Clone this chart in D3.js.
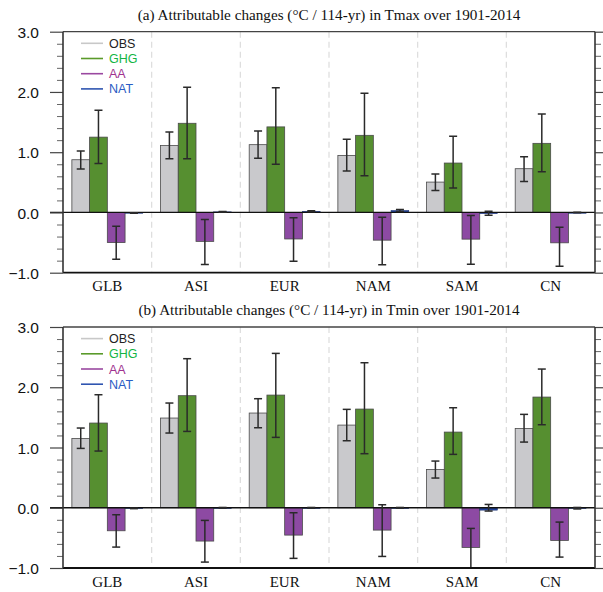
<!DOCTYPE html>
<html>
<head>
<meta charset="utf-8">
<script src="https://cdn.jsdelivr.net/npm/d3@7"></script>
<style>
  html, body { margin: 0; padding: 0; background: #fff; }
  svg { display: block; }
</style>
</head>
<body>
<svg id="chart" width="603" height="592"></svg>
<script>
// Regions and forcing experiments
const regions = ["GLB", "ASI", "EUR", "NAM", "SAM", "CN"];
const series = ["OBS", "GHG", "AA", "NAT"];
const yTicks = [-1.0, 0.0, 1.0, 2.0, 3.0];

// Tmax: central estimates and 5-95% ranges (°C / 114-yr)
const tmaxOBS = [0.875, 1.11, 1.125, 0.947, 0.504, 0.726];
const tmaxOBSRange = [[0.72, 1.02], [0.89, 1.335], [0.90, 1.35], [0.687, 1.213], [0.366, 0.637], [0.515, 0.925]];
const tmaxGHG = [1.25, 1.48, 1.42, 1.28, 0.82, 1.147];
const tmaxGHGRange = [[0.814, 1.695], [0.89, 2.08], [0.80, 2.07], [0.61, 1.978], [0.404, 1.263], [0.676, 1.634]];
const tmaxAA = [-0.50, -0.48, -0.44, -0.46, -0.443, -0.504];
const tmaxAARange = [[-0.776, -0.227], [-0.864, -0.116], [-0.81, -0.09], [-0.87, -0.078], [-0.86, -0.05], [-0.892, -0.244]];
const tmaxNAT = [-0.01, 0.01, 0.02, 0.033, -0.02, 0.0];
const tmaxNATRange = [[-0.015, -0.005], [0.005, 0.015], [0.01, 0.03], [0.015, 0.05], [-0.045, 0.02], [-0.005, 0.005]];

// Tmin: central estimates and 5-95% ranges (°C / 114-yr)
const tminOBS = [1.151, 1.489, 1.572, 1.372, 0.636, 1.317];
const tminOBSRange = [[0.985, 1.323], [1.24, 1.738], [1.328, 1.81], [1.112, 1.633], [0.493, 0.775], [1.09, 1.55]];
const tminGHG = [1.406, 1.86, 1.87, 1.638, 1.256, 1.837];
const tminGHGRange = [[0.941, 1.876], [1.267, 2.474], [1.168, 2.562], [0.897, 2.407], [0.886, 1.66], [1.378, 2.302]];
const tminAA = [-0.382, -0.553, -0.454, -0.371, -0.659, -0.542];
const tminAARange = [[-0.653, -0.116], [-0.902, -0.21], [-0.84, -0.083], [-0.808, 0.05], [-1.05, -0.343], [-0.819, -0.238]];
const tminNAT = [-0.01, 0.0, 0.0, 0.0, -0.04, -0.01];
const tminNATRange = [[-0.015, -0.005], [-0.005, 0.005], [-0.005, 0.005], [-0.005, 0.005], [-0.055, 0.055], [-0.02, 0.005]];

const panels = [
  {
    title: "(a) Attributable changes (°C / 114-yr) in Tmax over 1901-2014",
    values: [tmaxOBS, tmaxGHG, tmaxAA, tmaxNAT],
    ranges: [tmaxOBSRange, tmaxGHGRange, tmaxAARange, tmaxNATRange]
  },
  {
    title: "(b) Attributable changes (°C / 114-yr) in Tmin over 1901-2014",
    values: [tminOBS, tminGHG, tminAA, tminNAT],
    ranges: [tminOBSRange, tminGHGRange, tminAARange, tminNATRange]
  }
];

const barFill = { OBS: "#c9c9cc", GHG: "#568f30", AA: "#8d4aa3", NAT: "#22449e" };
const legendLine = { OBS: "#c8c8c8", GHG: "#5a9a2a", AA: "#9a48a0", NAT: "#2f55b0" };
const legendText = { OBS: "#222222", GHG: "#13b544", AA: "#a0328f", NAT: "#2a5cc4" };

const svg = d3.select("#chart");
const left = 63, right = 595, plotH = 241;
const panelTops = [31.7, 327];

// each region holds four bars of 1/5 of its width, centred
const x0 = d3.scaleBand().domain(regions).range([left, right]).paddingInner(0).paddingOuter(0);
const x1 = d3.scaleBand().domain(series).range([0, x0.bandwidth()]).paddingInner(0).paddingOuter(0.5);

panels.forEach((p, pi) => {
  const top = panelTops[pi];
  const y = d3.scaleLinear().domain([-1, 3]).range([top + plotH, top]);
  const g = svg.append("g");

  const clipId = "clip" + pi;
  svg.append("clipPath").attr("id", clipId)
    .append("rect").attr("x", left).attr("y", top).attr("width", right - left).attr("height", plotH);

  // dashed separators between regions
  g.selectAll("line.sep").data(regions.slice(1)).join("line")
    .attr("x1", d => x0(d)).attr("x2", d => x0(d))
    .attr("y1", top).attr("y2", top + plotH)
    .attr("stroke", "#dcdcdc").attr("stroke-width", 1.2).attr("stroke-dasharray", "6,4");

  // bars
  const barG = g.append("g").attr("clip-path", `url(#${clipId})`);
  series.forEach((s, si) => {
    const vals = p.values[si];
    barG.selectAll(null).data(vals).join("rect")
      .attr("x", (d, i) => x0(regions[i]) + x1(s))
      .attr("width", x1.bandwidth())
      .attr("y", d => y(Math.max(0, d)))
      .attr("height", d => Math.max(Math.abs(y(d) - y(0)), 0.8))
      .attr("fill", barFill[s])
      .attr("stroke", s === "NAT" ? "#1a2f70" : "#4a4a4a")
      .attr("stroke-width", s === "NAT" ? 0.5 : 0.8);
  });

  // zero line
  g.append("line").attr("x1", left - 13).attr("x2", right)
    .attr("y1", y(0)).attr("y2", y(0)).attr("stroke", "#111").attr("stroke-width", 1.3);

  // error bars
  const errG = g.append("g").attr("clip-path", `url(#${clipId})`);
  series.forEach((s, si) => {
    const rng = p.ranges[si];
    rng.forEach((r, i) => {
      const cx = x0(regions[i]) + x1(s) + x1.bandwidth() / 2;
      errG.append("line").attr("x1", cx).attr("x2", cx)
        .attr("y1", y(r[0])).attr("y2", y(r[1]))
        .attr("stroke", "#2a2a2a").attr("stroke-width", 1.5);
      [r[0], r[1]].forEach(v => {
        errG.append("line").attr("x1", cx - 4).attr("x2", cx + 4)
          .attr("y1", y(v)).attr("y2", y(v))
          .attr("stroke", "#2a2a2a").attr("stroke-width", 1.5);
      });
    });
  });

  // left axis with major and minor ticks
  const majorAxis = d3.axisLeft(y).tickValues(yTicks).tickSize(13).tickFormat(d3.format(".1f"));
  const ax = g.append("g").attr("transform", `translate(${left},0)`).call(majorAxis);
  ax.select(".domain").remove();
  ax.selectAll(".tick line").attr("stroke", "#444").attr("stroke-width", 1.2);
  ax.selectAll(".tick text").attr("x", -24).attr("dy", "0.36em")
    .attr("font-family", "'Liberation Sans', Arial, sans-serif").attr("font-size", 15.5).attr("fill", "#111");
  const minorVals = d3.range(-1, 3.0001, 0.2).filter(v => Math.abs(Math.round(v) - v) > 1e-6);
  const minL = g.append("g").attr("transform", `translate(${left},0)`)
    .call(d3.axisLeft(y).tickValues(minorVals).tickSize(6).tickFormat(""));
  minL.select(".domain").remove();
  minL.selectAll(".tick line").attr("stroke", "#666").attr("stroke-width", 1);

  // right axis ticks
  const rAx = g.append("g").attr("transform", `translate(${right},0)`)
    .call(d3.axisRight(y).tickValues(yTicks).tickSize(13).tickFormat(""));
  rAx.select(".domain").remove();
  rAx.selectAll(".tick line").attr("stroke", "#444").attr("stroke-width", 1.2);
  const minR = g.append("g").attr("transform", `translate(${right},0)`)
    .call(d3.axisRight(y).tickValues(minorVals).tickSize(6).tickFormat(""));
  minR.select(".domain").remove();
  minR.selectAll(".tick line").attr("stroke", "#666").attr("stroke-width", 1);

  // frame
  g.append("line").attr("x1", left).attr("x2", right).attr("y1", top).attr("y2", top)
    .attr("stroke", "#444").attr("stroke-width", 1.3);
  g.append("line").attr("x1", left).attr("x2", right).attr("y1", top + plotH).attr("y2", top + plotH)
    .attr("stroke", "#111").attr("stroke-width", 1.8);
  g.append("line").attr("x1", left).attr("x2", left).attr("y1", top).attr("y2", top + plotH)
    .attr("stroke", "#333").attr("stroke-width", 1.6);
  g.append("line").attr("x1", right).attr("x2", right).attr("y1", top).attr("y2", top + plotH)
    .attr("stroke", "#333").attr("stroke-width", 1.6);

  // region labels
  const xAx = g.append("g").attr("transform", `translate(0,${top + plotH})`)
    .call(d3.axisBottom(x0).tickSize(0).tickPadding(8));
  xAx.select(".domain").remove();
  xAx.selectAll(".tick text").attr("font-family", "'Liberation Serif', 'Times New Roman', serif")
    .attr("font-size", 15).attr("fill", "#111");

  // title
  g.append("text").attr("x", (left + right) / 2).attr("y", top - 12)
    .attr("text-anchor", "middle")
    .attr("font-family", "'Liberation Serif', 'Times New Roman', serif")
    .attr("font-size", 15.2).attr("fill", "#111").text(p.title);

  // legend
  const lg = g.append("g");
  series.forEach((s, si) => {
    const ly = top + 11.6 + si * 15.2;
    lg.append("line").attr("x1", 81).attr("x2", 103).attr("y1", ly).attr("y2", ly)
      .attr("stroke", legendLine[s]).attr("stroke-width", 1.6);
    lg.append("text").attr("x", 109).attr("y", ly).attr("dy", "0.36em")
      .attr("font-family", "'Liberation Sans', Arial, sans-serif").attr("font-size", 12.5)
      .attr("fill", legendText[s]).text(s);
  });
});
</script>
</body>
</html>
